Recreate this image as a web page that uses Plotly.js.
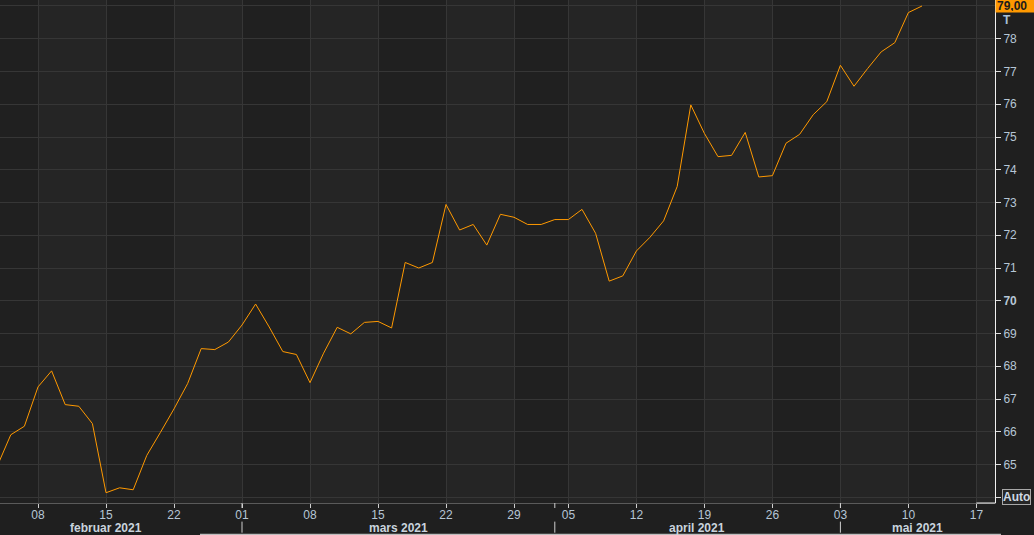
<!DOCTYPE html>
<html>
<head>
<meta charset="utf-8">
<script src="https://cdn.plot.ly/plotly-3.0.1.min.js"></script>
<style>
html,body{margin:0;padding:0;background:#1f1f1f;}
#chart{width:1034px;height:535px;}
</style>
</head>
<body>
<div id="chart"></div>
<script>
// ---- data ----
const dates = [
  "2021-02-03","2021-02-04","2021-02-05",
  "2021-02-08","2021-02-09","2021-02-10","2021-02-11","2021-02-12",
  "2021-02-15","2021-02-16","2021-02-17","2021-02-18","2021-02-19",
  "2021-02-22","2021-02-23","2021-02-24","2021-02-25","2021-02-26",
  "2021-03-01","2021-03-02","2021-03-03","2021-03-04","2021-03-05",
  "2021-03-08","2021-03-09","2021-03-10","2021-03-11","2021-03-12",
  "2021-03-15","2021-03-16","2021-03-17","2021-03-18","2021-03-19",
  "2021-03-22","2021-03-23","2021-03-24","2021-03-25","2021-03-26",
  "2021-03-29","2021-03-30","2021-03-31","2021-04-01",
  "2021-04-05","2021-04-06","2021-04-07","2021-04-08","2021-04-09",
  "2021-04-12","2021-04-13","2021-04-14","2021-04-15","2021-04-16",
  "2021-04-19","2021-04-20","2021-04-21","2021-04-22","2021-04-23",
  "2021-04-26","2021-04-27","2021-04-28","2021-04-29","2021-04-30",
  "2021-05-03","2021-05-04","2021-05-05","2021-05-06","2021-05-07",
  "2021-05-10","2021-05-11"
];
const prices = [
  64.95, 65.91, 66.17,
  67.37, 67.86, 66.83, 66.78, 66.25,
  64.14, 64.29, 64.23, 65.28, 65.98,
  66.70, 67.47, 68.54, 68.51, 68.74,
  69.26, 69.90, 69.20, 68.45, 68.36,
  67.50, 68.40, 69.19, 68.99, 69.34,
  69.37, 69.17, 71.17, 71.00, 71.17,
  72.94, 72.16, 72.33, 71.70, 72.64,
  72.55, 72.33, 72.33, 72.48,
  72.48, 72.79, 72.06, 70.60, 70.76,
  71.52, 71.94, 72.44, 73.49, 75.98,
  75.11, 74.40, 74.44, 75.14, 73.78,
  73.82, 74.81, 75.08, 75.68, 76.08,
  77.19, 76.55, 77.09, 77.60, 77.88,
  78.80, 79.00
];
const lastLabel = "79,00";
const holidays = ["2021-04-02"];

const weekTicks = ["2021-02-08","2021-02-15","2021-02-22","2021-03-01","2021-03-08","2021-03-15","2021-03-22","2021-03-29","2021-04-05","2021-04-12","2021-04-19","2021-04-26","2021-05-03","2021-05-10","2021-05-17"];
const weekTickText = ["08","15","22","01","08","15","22","29","05","12","19","26","03","10","17"];
const bandEdges = ["2021-02-01","2021-02-08","2021-02-15","2021-02-22","2021-03-01","2021-03-08","2021-03-15","2021-03-22","2021-03-29","2021-04-05","2021-04-12","2021-04-19","2021-04-26","2021-05-03","2021-05-10","2021-05-17","2021-05-24"];

const monthStarts = ["2021-03-01","2021-04-01","2021-05-03"];
const monthLabels = ["februar 2021","mars 2021","april 2021","mai 2021"];
const monthLabelPos = ["2021-02-15","2021-03-16 12:00","2021-04-16 11:00","2021-05-10 16:00"];

const yTickVals = [64,65,66,67,68,69,70,71,72,73,74,75,76,77,78,79];
const yTickText = ["","65","66","67","68","69","<b>70</b>","71","72","73","74","75","76","77","78",""];

const xRange = ["2021-02-03 04:56","2021-05-18 08:50"];
const yRange = [63.826, 79.183];

// ---- styling ----
const FONT = "Liberation Sans, Arial, sans-serif";
const LBL = "#b6c6d6";

const shapes = [];
// alternating weekly bands
for (let i = 0; i < bandEdges.length - 1; i++) {
  if (i % 2 === 1) {
    shapes.push({type:"rect", xref:"x", yref:"paper", x0:bandEdges[i], x1:bandEdges[i+1], y0:0, y1:1,
      fillcolor:"#252525", line:{width:0}, layer:"below"});
  }
}
// month boundary marks
monthStarts.forEach(d => {
  shapes.push({type:"line", xref:"x", yref:"paper", x0:d, x1:d, y0:0, y1:-0.010, line:{color:"#cfcfcf", width:1}});
  shapes.push({type:"line", xref:"x", yref:"paper", x0:d, x1:d, y0:-0.037, y1:-0.059, line:{color:"#cfcfcf", width:1}});
});
// white bottom segment near axis corner
shapes.push({type:"line", xref:"x", yref:"paper", x0:weekTicks[weekTicks.length-1], x1:xRange[1], y0:0, y1:0, line:{color:"#f0f0f0", width:1}});
// scrollbar strip
shapes.push({type:"rect", xref:"paper", yref:"paper", x0:0.201, x1:1.006, y0:-0.061, y1:-0.064, fillcolor:"#bdbdbd", line:{width:0}});

const annotations = [];
monthLabels.forEach((t, i) => {
  annotations.push({text:"<b>"+t+"</b>", xref:"x", yref:"paper", x:monthLabelPos[i], y:-0.049, yanchor:"middle", xanchor:"center",
    showarrow:false, font:{family:FONT, size:12, color:"#c9d3dd"}});
});
annotations.push({text:"<b>"+lastLabel+"</b>", xref:"paper", yref:"y", x:1, y:prices[prices.length-1], xanchor:"left", yanchor:"middle",
  showarrow:false, bgcolor:"#ff9900", font:{family:FONT, size:12, color:"#1b1b1b"}, width:37, height:11, borderpad:1, align:"left"});
annotations.push({text:"<b>T</b>", xref:"paper", yref:"paper", x:1, xshift:6, y:0.961, xanchor:"left", yanchor:"middle",
  showarrow:false, font:{family:FONT, size:12, color:"#a9c0d6"}});
annotations.push({text:"<b>Auto</b>", xref:"paper", yref:"y", x:1, xshift:7, y:64, xanchor:"left", yanchor:"middle",
  showarrow:false, bgcolor:"#262626", bordercolor:"#a8a8a8", borderwidth:1, borderpad:0,
  font:{family:FONT, size:12, color:"#cdd8e3"}});

const trace = {
  x: dates, y: prices, type:"scatter", mode:"lines",
  line:{color:"#ff9900", width:1}, hoverinfo:"skip"
};

const layout = {
  width:1034, height:535,
  margin:{l:0, r:39, t:0, b:32, pad:0},
  paper_bgcolor:"#1f1f1f", plot_bgcolor:"#202020",
  showlegend:false,
  font:{family:FONT, size:12, color:LBL},
  xaxis:{
    type:"date", range:xRange, autorange:false, automargin:false,
    rangebreaks:[{bounds:["sat","mon"]},{values:holidays}],
    tickmode:"array", tickvals:weekTicks, ticktext:weekTickText,
    ticks:"outside", ticklen:4, tickcolor:"#cfcfcf", tickwidth:1,
    ticklabelstandoff:-3,
    showgrid:true, gridcolor:"#363636", gridwidth:1,
    showline:true, linecolor:"#5a5a5a", linewidth:1,
    zeroline:false, tickfont:{family:FONT, size:12, color:LBL}, fixedrange:true
  },
  yaxis:{
    side:"right", range:yRange, autorange:false, automargin:false,
    tickmode:"array", tickvals:yTickVals, ticktext:yTickText,
    ticks:"outside", ticklen:5, tickcolor:"#dcdcdc", tickwidth:1,
    showgrid:true, gridcolor:"#363636", gridwidth:1,
    showline:true, linecolor:"#f0f0f0", linewidth:1,
    zeroline:false, tickfont:{family:FONT, size:12, color:LBL}, fixedrange:true
  },
  shapes:shapes,
  annotations:annotations
};

Plotly.newPlot("chart", [trace], layout, {displayModeBar:false, staticPlot:true});
</script>
</body>
</html>
